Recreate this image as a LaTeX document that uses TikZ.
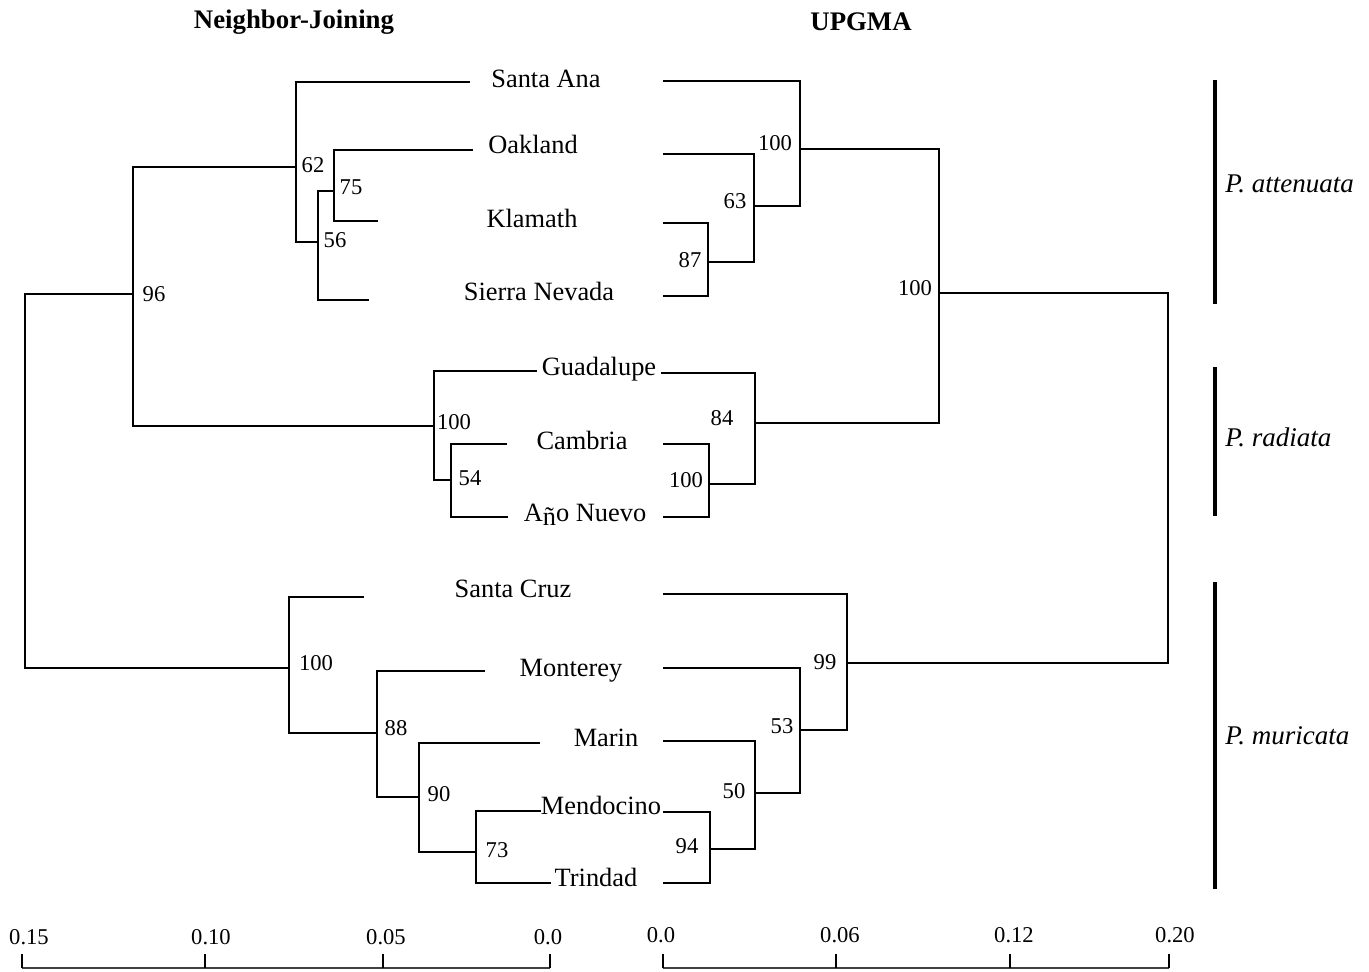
\documentclass[tikz,border=0pt]{standalone}
\usepackage{fontspec}
\setmainfont{Liberation Serif}
\begin{document}
\begin{tikzpicture}[x=0.5pt,y=-0.5pt,
  br/.style={line width=1.15pt},
  leaf/.style={anchor=base,inner sep=0pt,font=\fontsize{13.2}{15}\selectfont},
  bs/.style={anchor=center,inner sep=0pt,font=\fontsize{11.3}{13}\selectfont},
  ttl/.style={anchor=center,inner sep=0pt,font=\fontsize{13.4}{15}\selectfont\bfseries},
  spc/.style={anchor=west,inner sep=0pt,font=\fontsize{13.5}{15}\selectfont\itshape},
  bar/.style={line width=1.7pt},
  axis/.style={line width=0.8pt,black!75},
  tick/.style={line width=0.9pt},
  sc/.style={anchor=center,inner sep=0pt,font=\fontsize{11.3}{13}\selectfont}]
\useasboundingbox (0,0) rectangle (1369,971);

% ---------- titles ----------
\node[ttl] (tNJ) at (294,22) {Neighbor-Joining};
\node[ttl] (tUP) at (861,22) {UPGMA};

% ---------- taxon labels ----------
\node[leaf] (lSA)  at (546,87)  {Santa Ana};
\node[leaf] (lOak) at (533,153) {Oakland};
\node[leaf] (lKla) at (532,227) {Klamath};
\node[leaf] (lSN)  at (539,300) {Sierra Nevada};
\node[leaf] (lGua) at (599,375) {Guadalupe};
\node[leaf] (lCam) at (582,449) {Cambria};
\node[leaf] (lAno) at (585,521) {A\raisebox{-0.18em}{ñ}o Nuevo};
\node[leaf] (lSC)  at (513,597) {Santa Cruz};
\node[leaf] (lMon) at (571,676) {Monterey};
\node[leaf] (lMar) at (606,746) {Marin};
\node[leaf] (lMen) at (601,814) {Mendocino};
\node[leaf] (lTri) at (596,886) {Trindad};

% ---------- NJ tree coordinates ----------
\coordinate (njSA)  at (470,82);
\coordinate (njOak) at (473,150);
\coordinate (njKla) at (378,221);
\coordinate (njSN)  at (369,300);
\coordinate (njGua) at (537,371);
\coordinate (njCam) at (507,444);
\coordinate (njAno) at (508,517);
\coordinate (njSC)  at (364,597);
\coordinate (njMon) at (485,671);
\coordinate (njMar) at (540,743);
\coordinate (njMen) at (541,811);
\coordinate (njTri) at (551,883);

\coordinate (n75)  at (334,191);
\coordinate (n56)  at (318,242);
\coordinate (n62)  at (296,167);
\coordinate (n54)  at (451,480);
\coordinate (nRad) at (434,426);
\coordinate (n96)  at (133,294);
\coordinate (n73)  at (476,852);
\coordinate (n90)  at (419,797);
\coordinate (n88)  at (377,733);
\coordinate (nMur) at (289,668);
\coordinate (nRoot) at (25,480);

\draw[br] (njOak) -| (n75) |- (njKla);
\draw[br] (n75) -| (n56) |- (njSN);
\draw[br] (njSA) -| (n62) |- (n56);
\draw[br] (njCam) -| (n54) |- (njAno);
\draw[br] (njGua) -| (nRad) |- (n54);
\draw[br] (n62) -| (n96) |- (nRad);
\draw[br] (njMen) -| (n73) |- (njTri);
\draw[br] (njMar) -| (n90) |- (n73);
\draw[br] (njMon) -| (n88) |- (n90);
\draw[br] (njSC) -| (nMur) |- (n88);
\draw[br] (n96) -| (nRoot) |- (nMur);

% NJ bootstrap values
\node[bs] (b96)  at (154,294) {96};
\node[bs] (b62)  at (313,165) {62};
\node[bs] (b75)  at (351,187) {75};
\node[bs] (b56)  at (335,240) {56};
\node[bs] (b100r) at (454,422) {100};
\node[bs] (b54)  at (470,478) {54};
\node[bs] (b100m) at (316,663) {100};
\node[bs] (b88)  at (396,728) {88};
\node[bs] (b90)  at (439,794) {90};
\node[bs] (b73)  at (497,850) {73};

% ---------- UPGMA tree coordinates ----------
\coordinate (upSA)  at (663,81);
\coordinate (upOak) at (663,154);
\coordinate (upKla) at (663,223);
\coordinate (upSN)  at (663,296);
\coordinate (upGua) at (661,373);
\coordinate (upCam) at (663,444);
\coordinate (upAno) at (663,517);
\coordinate (upSC)  at (663,594);
\coordinate (upMon) at (663,668);
\coordinate (upMar) at (663,741);
\coordinate (upMen) at (663,812);
\coordinate (upTri) at (663,883);

\coordinate (u87)  at (708,262);
\coordinate (u63)  at (754,206);
\coordinate (uAtt) at (800,149);
\coordinate (u100) at (709,484);
\coordinate (uRad) at (755,423);
\coordinate (uAR)  at (939,293);
\coordinate (u94)  at (710,849);
\coordinate (u50)  at (755,793);
\coordinate (u53)  at (800,730);
\coordinate (u99)  at (847,663);
\coordinate (uRoot) at (1168,480);

\draw[br] (upKla) -| (u87) |- (upSN);
\draw[br] (upOak) -| (u63) |- (u87);
\draw[br] (upSA) -| (uAtt) |- (u63);
\draw[br] (upCam) -| (u100) |- (upAno);
\draw[br] (upGua) -| (uRad) |- (u100);
\draw[br] (uAtt) -| (uAR) |- (uRad);
\draw[br] (upMen) -| (u94) |- (upTri);
\draw[br] (upMar) -| (u50) |- (u94);
\draw[br] (upMon) -| (u53) |- (u50);
\draw[br] (upSC) -| (u99) |- (u53);
\draw[br] (uAR) -| (uRoot) |- (u99);

% UPGMA bootstrap values
\node[bs] (c100a) at (775,143) {100};
\node[bs] (c63)  at (735,201) {63};
\node[bs] (c87)  at (690,260) {87};
\node[bs] (c100b) at (915,288) {100};
\node[bs] (c84)  at (722,418) {84};
\node[bs] (c100c) at (686,480) {100};
\node[bs] (c99)  at (825,662) {99};
\node[bs] (c53)  at (782,726) {53};
\node[bs] (c50)  at (734,791) {50};
\node[bs] (c94)  at (687,846) {94};

% ---------- species bars ----------
\coordinate (sA1) at (1215,80);  \coordinate (sA2) at (1215,304);
\coordinate (sR1) at (1215,367); \coordinate (sR2) at (1215,516);
\coordinate (sM1) at (1215,582); \coordinate (sM2) at (1215,889);
\draw[bar] (sA1) -- (sA2);
\draw[bar] (sR1) -- (sR2);
\draw[bar] (sM1) -- (sM2);
\node[spc] (pA) at (1225,184) {P. attenuata};
\node[spc] (pR) at (1225,437) {P. radiata};
\node[spc] (pM) at (1225,736) {P. muricata};

% ---------- scale bars ----------
\coordinate (a0) at (22,968);  \coordinate (a1) at (205,968);
\coordinate (a2) at (383,968); \coordinate (a3) at (550,968);
\coordinate (b0) at (663,968); \coordinate (b1) at (836,968);
\coordinate (b2) at (1010,968); \coordinate (b3) at (1169,968);
\draw[axis] (a0) -- (a3);
\draw[axis] (b0) -- (b3);
\foreach \p in {a0,a1,a2,a3,b0,b1,b2,b3} \draw[tick] (\p) -- ++(0,-14);
\node[sc] (s1) at (29,937)  {0.15};
\node[sc] (s2) at (211,937) {0.10};
\node[sc] (s3) at (386,937) {0.05};
\node[sc] (s4) at (548,937) {0.0};
\node[sc] (s5) at (661,935) {0.0};
\node[sc] (s6) at (840,935) {0.06};
\node[sc] (s7) at (1014,935) {0.12};
\node[sc] (s8) at (1175,935) {0.20};
\end{tikzpicture}
\end{document}
